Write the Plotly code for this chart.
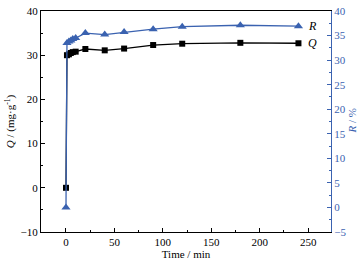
import plotly.graph_objects as go

time_min = [0, 1, 3, 5, 7, 10, 20, 40, 60, 90, 120, 180, 240]
Q_vals = [0, 30.0, 30.2, 30.5, 30.7, 30.8, 31.4, 31.1, 31.5, 32.3, 32.6, 32.8, 32.7]
R_vals = [0, 33.5, 33.8, 34.0, 34.3, 34.5, 35.5, 35.2, 35.7, 36.3, 36.8, 37.1, 36.9]

blue = "#3a62b0"
font = "Liberation Serif"

fig = go.Figure()
fig.add_trace(go.Scatter(x=time_min, y=Q_vals, mode="lines+markers", name="Q",
                         line=dict(color="black", width=1.3),
                         marker=dict(symbol="square", size=6, color="black"),
                         yaxis="y"))
fig.add_trace(go.Scatter(x=time_min, y=R_vals, mode="lines+markers", name="R",
                         line=dict(color=blue, width=1.3),
                         marker=dict(symbol="triangle-up", size=8, color=blue),
                         yaxis="y2"))

fig.add_annotation(x=time_min[-1], y=R_vals[-1], yref="y2", text="<i>R</i>",
                   showarrow=False, xshift=14, xanchor="center",
                   font=dict(family=font, size=12, color="black"))
fig.add_annotation(x=time_min[-1], y=Q_vals[-1], yref="y", text="<i>Q</i>",
                   showarrow=False, xshift=14, xanchor="center",
                   font=dict(family=font, size=12, color="black"))
fig.add_annotation(x=1, xref="paper", y=0.5, yref="paper", text="<i>R</i> / %",
                   textangle=-90, showarrow=False, xshift=20, xanchor="center",
                   yanchor="middle",
                   font=dict(family=font, size=11, color=blue))

fig.update_layout(
    width=364, height=263,
    margin=dict(l=41, r=33, t=11, b=31, autoexpand=False),
    plot_bgcolor="white", paper_bgcolor="white",
    showlegend=False,
    font=dict(family=font, size=11, color="black"),
    xaxis=dict(range=[-25.8, 273.6], tickvals=[0, 50, 100, 150, 200, 250],
               showline=True, linecolor="black", linewidth=1.2, mirror=True,
               ticks="inside", ticklen=4, tickcolor="black",
               minor=dict(dtick=25, ticks="inside", ticklen=2, tickcolor="black"),
               showgrid=False, zeroline=False,
               title=dict(text="Time / min", standoff=1, font=dict(size=11))),
    yaxis=dict(range=[-10, 40], dtick=10,
               showline=True, linecolor="black", linewidth=1.2,
               ticks="inside", ticklen=4, tickcolor="black",
               minor=dict(dtick=5, ticks="inside", ticklen=2, tickcolor="black"),
               showgrid=False, zeroline=False,
               title=dict(text="<i>Q</i> / (mg·g<sup>-1</sup>)", standoff=3, font=dict(size=11))),
    yaxis2=dict(range=[-5, 40], dtick=5, overlaying="y", side="right",
                showline=True, linecolor=blue, linewidth=1.2,
                ticks="inside", ticklen=4, tickcolor=blue,
                minor=dict(dtick=2.5, ticks="inside", ticklen=2, tickcolor=blue),
                tickfont=dict(color=blue),
                showgrid=False, zeroline=False),
)

fig.write_html("out.html", config={"displayModeBar": False},
               post_script="document.body.style.margin='0';document.body.style.overflow='hidden';")
